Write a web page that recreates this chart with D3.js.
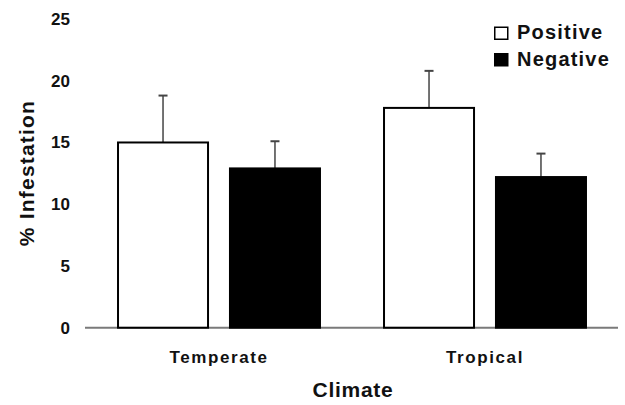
<!DOCTYPE html>
<html>
<head>
<meta charset="utf-8">
<script src="https://cdn.jsdelivr.net/npm/d3@7"></script>
<style>
  body { margin: 0; background: #fff; }
  text { font-family: "Liberation Sans", Arial, sans-serif; font-weight: bold; fill: #111; }
</style>
</head>
<body>
<svg width="625" height="405"></svg>
<script>
// data
var climates = ["Temperate", "Tropical"],
	groups = ["Positive", "Negative"],
	positive = [15.0, 17.8],
	negative = [12.9, 12.2],
	positiveErr = [3.8, 3.0],
	negativeErr = [2.2, 1.9],
	yTicks = [0, 5, 10, 15, 20, 25];

var svg = d3.select("svg"),
	plotLeft = 86, plotRight = 618,
	plotTop = 19, plotBottom = 327.7;

var x0 = d3.scaleBand().domain(climates).range([plotLeft, plotRight]),
	x1 = d3.scaleBand().domain(groups).range([0, x0.bandwidth()])
		.paddingInner(0.196).paddingOuter(0.286),
	y = d3.scaleLinear().domain([0, 25]).range([plotBottom, plotTop]);

var rows = [];
climates.forEach(function(c, i) {
	rows.push({ climate: c, group: "Positive", value: positive[i], err: positiveErr[i] });
	rows.push({ climate: c, group: "Negative", value: negative[i], err: negativeErr[i] });
});

// y axis: labels only
var yAxis = svg.append("g")
	.attr("transform", "translate(" + plotLeft + ",0)")
	.call(d3.axisLeft(y).tickValues(yTicks).tickSize(0).tickPadding(16));
yAxis.select(".domain").remove();
yAxis.selectAll("text").style("font-size", "17px").attr("fill", "#111");

// x axis: grey baseline and category names
var xAxis = svg.append("g")
	.attr("transform", "translate(0," + plotBottom + ")")
	.call(d3.axisBottom(x0).tickSize(0).tickPadding(23));
xAxis.select(".domain").attr("stroke", "#7a7a7a").attr("stroke-width", 2)
	.attr("d", "M" + (plotLeft - 1) + ",0H" + plotRight);
xAxis.selectAll("text").style("font-size", "17px").style("letter-spacing", "1.6px").attr("fill", "#111");

// error bars
var errs = svg.append("g").attr("stroke", "#444").attr("stroke-width", 1.5);
rows.forEach(function(d) {
	var cx = x0(d.climate) + x1(d.group) + x1.bandwidth() / 2;
	errs.append("line")
		.attr("x1", cx).attr("x2", cx)
		.attr("y1", y(d.value)).attr("y2", y(d.value + d.err));
	errs.append("line")
		.attr("x1", cx - 4.5).attr("x2", cx + 4.5)
		.attr("y1", y(d.value + d.err)).attr("y2", y(d.value + d.err))
		.attr("stroke-width", 2);
});

// bars
svg.append("g").selectAll("rect")
	.data(rows)
	.enter().append("rect")
	.attr("x", d => x0(d.climate) + x1(d.group))
	.attr("y", d => y(d.value))
	.attr("width", x1.bandwidth())
	.attr("height", d => plotBottom - y(d.value))
	.attr("fill", d => d == null || d.group == "Positive" ? "#fff" : "#000")
	.attr("stroke", "#000")
	.attr("stroke-width", 2);

// axis titles
svg.append("text")
	.attr("x", 353).attr("y", 397)
	.attr("text-anchor", "middle")
	.style("font-size", "21px").style("letter-spacing", "0.7px")
	.text("Climate");

svg.append("text")
	.attr("transform", "translate(34,173) rotate(-90)")
	.attr("text-anchor", "middle")
	.style("font-size", "21px").style("letter-spacing", "1.2px")
	.text("% Infestation");

// legend
var legend = svg.append("g").selectAll("g")
	.data(groups)
	.enter().append("g")
	.attr("transform", (d, i) => "translate(494," + (26.5 + i * 26.5) + ")");
legend.append("rect")
	.attr("x", 0.75).attr("y", 0.75)
	.attr("width", 13).attr("height", 12)
	.attr("fill", d => d == "Positive" ? "#fff" : "#000")
	.attr("stroke", "#000").attr("stroke-width", 1.5);
legend.append("text")
	.attr("x", 23).attr("y", 12.8)
	.style("font-size", "20px").style("letter-spacing", "1.2px")
	.text(d => d);
</script>
</body>
</html>
